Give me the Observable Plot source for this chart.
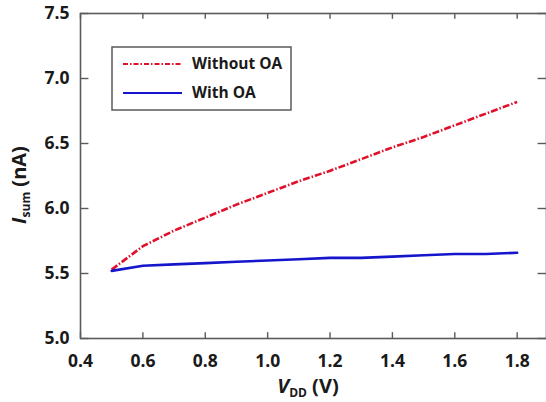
<!DOCTYPE html>
<html><head><meta charset="utf-8">
<script src="https://cdn.jsdelivr.net/npm/d3@7"></script>
<script src="https://cdn.jsdelivr.net/npm/@observablehq/plot@0.6"></script>
<style>
body{margin:0;background:#fff;}
svg{font-family:"Open Sans",sans-serif;}
</style></head>
<body><div id="chart"></div>
<script>
const vdd = [0.5,0.6,0.7,0.8,0.9,1.0,1.1,1.2,1.3,1.4,1.5,1.6,1.7,1.8];
const withoutOA = [5.53,5.71,5.83,5.93,6.03,6.12,6.21,6.29,6.38,6.47,6.55,6.64,6.73,6.82];
const withOA = [5.52,5.56,5.57,5.58,5.59,5.60,5.61,5.62,5.62,5.63,5.64,5.65,5.65,5.66];
const xTicks = [0.4,0.6,0.8,1.0,1.2,1.4,1.6,1.8];
const yTicks = [5.0,5.5,6.0,6.5,7.0,7.5];
const seriesNames = ["Without OA","With OA"];
const colors = ["#e0102a","#1515cc"];

const rows = [];
vdd.forEach((v,i)=>{
  rows.push({x:v,y:withoutOA[i],s:seriesNames[0]});
  rows.push({x:v,y:withOA[i],s:seriesNames[1]});
});

const W=546,H=402,mL=80,mT=13,mB=64,mR=0;
const xDom=[0.4,1.894], yDom=[5.0,7.5];
const fmt = d3.format(".1f");
const axisColor="#5a5a5a";
const tickLenY = 0.045, tickLenX = 0.027; // in data units (~6px)

const plot = Plot.plot({
  width:W, height:H,
  marginLeft:mL, marginTop:mT, marginBottom:mB, marginRight:mR,
  x:{domain:xDom},
  y:{domain:yDom},
  style:{fontFamily:"Open Sans", background:"#fff"},
  marks:[
    Plot.ruleX(xTicks, {x:d=>d, y1:yDom[0], y2:yDom[0]+tickLenY, stroke:axisColor, strokeWidth:1.4}),
    Plot.ruleX(xTicks, {x:d=>d, y1:yDom[1], y2:yDom[1]-tickLenY, stroke:axisColor, strokeWidth:1.4}),
    Plot.ruleY(yTicks, {y:d=>d, x1:xDom[0], x2:xDom[0]+tickLenX, stroke:axisColor, strokeWidth:1.4}),
    Plot.ruleY(yTicks, {y:d=>d, x1:xDom[1], x2:xDom[1]-tickLenX, stroke:axisColor, strokeWidth:1.4}),
    Plot.frame({stroke:axisColor, strokeWidth:1.6}),
    Plot.axisX({ticks:xTicks, tickSize:0, tickPadding:16, tickFormat:fmt, label:null, fontSize:17.5, fontWeight:"bold", fill:"#1a1a1a"}),
    Plot.axisY({ticks:yTicks, tickSize:0, tickPadding:11, tickFormat:fmt, label:null, fontSize:17.5, fontWeight:"bold", fill:"#1a1a1a"}),
    Plot.line(rows.filter(d=>d.s===seriesNames[0]), {x:"x", y:"y", stroke:colors[0], strokeWidth:2.6, strokeDasharray:"7,2,1.5,2", strokeLinecap:"butt"}),
    Plot.line(rows.filter(d=>d.s===seriesNames[1]), {x:"x", y:"y", stroke:colors[1], strokeWidth:2.6})
  ]
});

const svg = d3.select(plot);
const xt = svg.append("text").attr("x", 308).attr("y", 393).attr("text-anchor","middle")
  .attr("font-size",20).attr("font-weight","bold").attr("fill","#1a1a1a");
xt.append("tspan").attr("font-style","italic").text("V");
xt.append("tspan").attr("font-size",12).attr("dy",4).text("DD");
xt.append("tspan").attr("dy",-4).text(" (V)");

const yt = svg.append("text").attr("transform","translate(26,185) rotate(-90)").attr("text-anchor","middle")
  .attr("font-size",20).attr("font-weight","bold").attr("fill","#1a1a1a");
yt.append("tspan").attr("font-style","italic").text("I");
yt.append("tspan").attr("font-size",12).attr("dy",4).text("sum");
yt.append("tspan").attr("dy",-4).text(" (nA)");

const lg = svg.append("g");
lg.append("rect").attr("x",112).attr("y",47).attr("width",179).attr("height",63)
  .attr("fill","#fff").attr("stroke",axisColor).attr("stroke-width",1.5);
const ly=[64,93];
seriesNames.forEach((n,i)=>{
  lg.append("line").attr("x1",123).attr("x2",182).attr("y1",ly[i]).attr("y2",ly[i])
    .attr("stroke",colors[i]).attr("stroke-width",2.2)
    .attr("stroke-dasharray", i===0?"5,2,1.5,2":null);
  lg.append("text").attr("x",192).attr("y",ly[i]).attr("dy","0.35em").attr("text-anchor","start")
    .attr("font-size",15.5).attr("font-weight","bold").attr("fill","#1a1a1a").text(n);
});

document.getElementById("chart").appendChild(plot);
</script></body></html>
